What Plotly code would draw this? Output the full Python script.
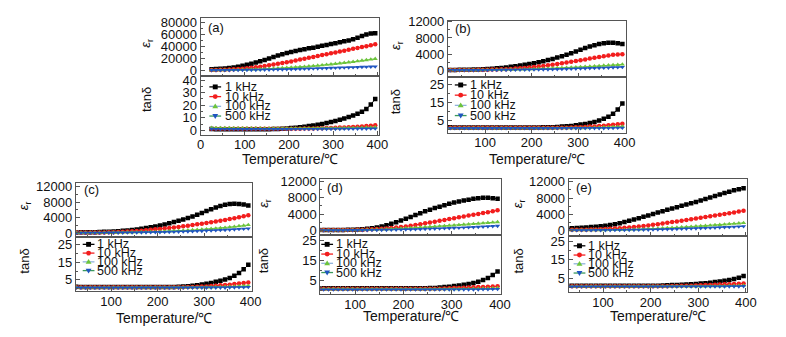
import plotly.graph_objects as go

# page geometry (the browser body keeps an 8 px margin, so the figure is offset by it)
W, H = 786, 337
OFF = 8
FW, FH = W - 2 * OFF, H - 2 * OFF

# ---------------- data ----------------
T = [25, 35, 45, 55, 65, 75, 85, 95, 105, 115, 125, 135, 145, 155, 165, 175, 185, 195, 205, 215,
     225, 235, 245, 255, 265, 275, 285, 295, 305, 315, 325, 335, 345, 355, 365, 375, 385, 395]

FREQS = ["1 kHz", "10 kHz", "100 kHz", "500 kHz"]
PANEL_LABELS = ["(a)", "(b)", "(c)", "(d)", "(e)"]
X_TITLE = "Temperature/℃"

# panel (a)
A_er_1k = [2000, 2300, 2700, 3200, 3900, 4800, 6000, 7500, 9200, 11000,
           13000, 15200, 17500, 20000, 22500, 24800, 27000, 29000, 30800, 32500,
           34000, 35500, 36800, 38000, 39500, 41000, 42500, 44000, 45500, 47000,
           48500, 50000, 52000, 54500, 57500, 60000, 61500, 62000]
A_er_10k = [500, 600, 800, 1000, 1300, 1700, 2200, 2800, 3500, 4300,
            5200, 6200, 7300, 8500, 9700, 11000, 12300, 13600, 15000, 16500,
            18000, 19500, 21000, 22500, 24000, 25500, 27000, 28500, 30000, 31500,
            33000, 34500, 36000, 37500, 39000, 40500, 42000, 43500]
A_er_100k = [300, 350, 400, 500, 600, 700, 850, 1000, 1200, 1450,
             1700, 2000, 2300, 2650, 3000, 3400, 3800, 4200, 4700, 5200,
             5700, 6200, 6800, 7400, 8000, 8700, 9400, 10100, 10900, 11700,
             12500, 13400, 14300, 15300, 16300, 17300, 18300, 19300]
A_er_500k = [200, 220, 250, 280, 320, 370, 430, 500, 580, 670,
             770, 880, 1000, 1130, 1270, 1420, 1580, 1750, 1930, 2120,
             2320, 2530, 2750, 2980, 3210, 3450, 3690, 3930, 4170, 4410,
             4650, 4890, 5130, 5370, 5600, 5820, 6030, 6230]
A_tan_1k = [1.0, 0.9, 0.8, 0.8, 0.8, 0.8, 0.8, 0.8, 0.8, 0.8,
            0.8, 0.8, 0.9, 0.9, 1.0, 1.1, 1.3, 1.5, 1.8, 2.1,
            2.5, 2.9, 3.4, 3.9, 4.5, 5.1, 5.8, 6.6, 7.5, 8.5,
            9.5, 10.6, 11.8, 13.2, 14.8, 17.0, 20.5, 25.0]
A_tan_10k = [1.3, 1.2, 1.2, 1.2, 1.2, 1.2, 1.2, 1.2, 1.2, 1.2,
             1.2, 1.2, 1.2, 1.2, 1.2, 1.2, 1.2, 1.2, 1.2, 1.3,
             1.3, 1.4, 1.4, 1.5, 1.6, 1.7, 1.8, 1.9, 2.0, 2.2,
             2.3, 2.5, 2.7, 2.9, 3.1, 3.4, 3.7, 4.0]
A_tan_100k = [2.0, 1.9, 1.9, 1.8, 1.8, 1.7, 1.7, 1.7, 1.6, 1.6,
              1.6, 1.6, 1.5, 1.5, 1.5, 1.5, 1.5, 1.5, 1.5, 1.5,
              1.5, 1.5, 1.5, 1.5, 1.6, 1.6, 1.6, 1.7, 1.7, 1.8,
              1.8, 1.9, 1.9, 2.0, 2.1, 2.2, 2.3, 2.4]
A_tan_500k = [1.1, 1.0, 1.0, 1.0, 1.0, 1.0, 1.0, 1.0, 1.0, 1.0,
              1.0, 1.0, 1.0, 1.0, 1.0, 1.0, 1.0, 1.0, 1.0, 1.0,
              1.0, 1.0, 1.0, 1.0, 1.0, 1.1, 1.1, 1.1, 1.1, 1.1,
              1.2, 1.2, 1.2, 1.3, 1.3, 1.3, 1.4, 1.4]

# panel (b)
B_er_1k = [100, 100, 110, 120, 140, 170, 210, 260, 320, 400,
           490, 600, 720, 860, 1010, 1180, 1360, 1560, 1770, 2000,
           2250, 2520, 2820, 3140, 3490, 3860, 4250, 4660, 5080, 5490,
           5880, 6220, 6500, 6700, 6800, 6790, 6680, 6500]
B_er_10k = [80, 80, 85, 90, 95, 100, 110, 125, 145, 170,
            200, 240, 290, 350, 420, 500, 600, 700, 820, 950,
            1090, 1240, 1400, 1570, 1750, 1930, 2120, 2310, 2500, 2700,
            2900, 3100, 3300, 3500, 3680, 3820, 3920, 4000]
B_er_100k = [50, 50, 50, 55, 60, 65, 70, 80, 90, 100,
             115, 130, 150, 170, 195, 220, 250, 285, 320, 360,
             400, 445, 490, 540, 590, 645, 700, 760, 820, 885,
             950, 1020, 1090, 1160, 1230, 1300, 1370, 1440]
B_er_500k = [30, 30, 30, 32, 35, 38, 42, 47, 53, 60,
             68, 77, 87, 98, 110, 123, 137, 152, 168, 185,
             205, 228, 253, 280, 308, 338, 370, 403, 437, 472,
             508, 545, 583, 622, 662, 703, 745, 790]
B_tan_1k = [1.1, 1.0, 1.0, 1.0, 1.0, 1.0, 1.0, 1.0, 1.0, 1.0,
            1.0, 1.0, 1.0, 1.0, 1.0, 1.0, 1.0, 1.0, 1.0, 1.0,
            1.1, 1.1, 1.2, 1.3, 1.5, 1.7, 1.9, 2.2, 2.6, 3.0,
            3.5, 4.1, 4.9, 5.8, 7.0, 8.6, 11.0, 14.3]
B_tan_10k = [0.8, 0.8, 0.8, 0.8, 0.8, 0.8, 0.8, 0.8, 0.8, 0.8,
             0.8, 0.8, 0.8, 0.8, 0.8, 0.8, 0.8, 0.8, 0.8, 0.8,
             0.8, 0.8, 0.8, 0.8, 0.8, 0.9, 1.0, 1.1, 1.2, 1.3,
             1.5, 1.6, 1.8, 2.0, 2.2, 2.5, 2.8, 3.1]
B_tan_100k = [0.7, 0.7, 0.7, 0.7, 0.7, 0.7, 0.7, 0.7, 0.7, 0.7,
              0.7, 0.7, 0.7, 0.7, 0.7, 0.7, 0.7, 0.7, 0.7, 0.7,
              0.7, 0.7, 0.7, 0.7, 0.7, 0.7, 0.7, 0.7, 0.7, 0.7,
              0.8, 0.9, 1.0, 1.1, 1.2, 1.3, 1.4, 1.5]
B_tan_500k = [0.6, 0.6, 0.6, 0.6, 0.6, 0.6, 0.6, 0.6, 0.6, 0.6,
              0.6, 0.6, 0.6, 0.6, 0.6, 0.6, 0.6, 0.6, 0.6, 0.6,
              0.6, 0.6, 0.6, 0.6, 0.6, 0.6, 0.6, 0.6, 0.6, 0.6,
              0.6, 0.6, 0.6, 0.6, 0.7, 0.7, 0.8, 0.8]

# panel (c)
C_er_1k = [150, 160, 180, 200, 220, 250, 290, 340, 400, 470,
           560, 670, 790, 930, 1090, 1270, 1480, 1710, 1960, 2230,
           2520, 2830, 3160, 3510, 3890, 4300, 4740, 5200, 5680, 6150,
           6600, 6990, 7300, 7500, 7580, 7550, 7400, 7150]
C_er_10k = [100, 100, 105, 110, 120, 135, 155, 180, 210, 250,
            300, 360, 430, 510, 600, 700, 820, 950, 1050, 1170,
            1300, 1440, 1580, 1730, 1890, 2060, 2240, 2420, 2580, 2760,
            2960, 3170, 3390, 3620, 3850, 4090, 4340, 4600]
C_er_100k = [60, 60, 62, 65, 70, 75, 82, 92, 105, 120,
             138, 158, 180, 205, 232, 262, 295, 330, 368, 410,
             455, 505, 560, 620, 685, 755, 830, 910, 995, 1085,
             1180, 1280, 1390, 1510, 1640, 1780, 1930, 2080]
C_er_500k = [40, 40, 41, 43, 46, 50, 55, 61, 68, 76,
             86, 97, 110, 124, 140, 157, 176, 197, 220, 245,
             272, 302, 335, 370, 408, 448, 490, 535, 583, 634,
             688, 745, 805, 868, 935, 1005, 1080, 1160]
C_tan_1k = [1.1, 1.0, 1.0, 1.0, 1.0, 1.0, 1.0, 1.0, 1.0, 1.0,
            1.0, 1.0, 1.0, 1.0, 1.0, 1.0, 1.0, 1.0, 1.0, 1.0,
            1.0, 1.0, 1.1, 1.2, 1.4, 1.7, 2.0, 2.4, 2.8, 3.3,
            3.9, 4.5, 5.2, 6.1, 7.3, 8.9, 11.0, 13.5]
C_tan_10k = [0.8, 0.8, 0.8, 0.8, 0.8, 0.8, 0.8, 0.8, 0.8, 0.8,
             0.8, 0.8, 0.8, 0.8, 0.8, 0.8, 0.8, 0.8, 0.8, 0.8,
             0.8, 0.8, 0.8, 0.8, 0.9, 1.0, 1.1, 1.2, 1.3, 1.5,
             1.7, 1.9, 2.1, 2.3, 2.6, 2.9, 3.2, 3.5]
C_tan_100k = [0.7, 0.7, 0.7, 0.7, 0.7, 0.7, 0.7, 0.7, 0.7, 0.7,
              0.7, 0.7, 0.7, 0.7, 0.7, 0.7, 0.7, 0.7, 0.7, 0.7,
              0.7, 0.7, 0.7, 0.7, 0.7, 0.7, 0.7, 0.7, 0.8, 0.8,
              0.9, 1.0, 1.1, 1.2, 1.3, 1.4, 1.5, 1.6]
C_tan_500k = [0.6, 0.6, 0.6, 0.6, 0.6, 0.6, 0.6, 0.6, 0.6, 0.6,
              0.6, 0.6, 0.6, 0.6, 0.6, 0.6, 0.6, 0.6, 0.6, 0.6,
              0.6, 0.6, 0.6, 0.6, 0.6, 0.6, 0.6, 0.6, 0.6, 0.6,
              0.6, 0.6, 0.6, 0.7, 0.7, 0.8, 0.8, 0.9]

# panel (d)
D_er_1k = [100, 100, 105, 110, 115, 130, 150, 180, 230, 300,
           400, 530, 720, 950, 1250, 1600, 2000, 2400, 2850, 3300,
           3750, 4200, 4650, 5050, 5450, 5800, 6150, 6500, 6800, 7050,
           7300, 7500, 7700, 7850, 7950, 7950, 7850, 7700]
D_er_10k = [80, 80, 82, 85, 90, 100, 115, 135, 160, 190,
            230, 280, 340, 410, 490, 580, 690, 820, 970, 1140,
            1330, 1530, 1730, 1930, 2140, 2350, 2560, 2770, 2980, 3190,
            3400, 3610, 3820, 4030, 4240, 4450, 4670, 4900]
D_er_100k = [50, 50, 52, 55, 60, 67, 76, 88, 103, 121,
             143, 170, 202, 240, 285, 335, 405, 480, 540, 610,
             680, 750, 820, 890, 960, 1030, 1100, 1180, 1260, 1340,
             1420, 1500, 1590, 1680, 1770, 1860, 1950, 2050]
D_er_500k = [30, 30, 31, 33, 36, 40, 45, 51, 58, 66,
             76, 88, 102, 118, 136, 156, 178, 202, 228, 256,
             286, 318, 352, 388, 426, 466, 508, 552, 598, 646,
             696, 748, 802, 858, 916, 976, 1038, 1100]
D_tan_1k = [1.2, 1.2, 1.2, 1.2, 1.2, 1.2, 1.2, 1.2, 1.2, 1.2,
            1.2, 1.2, 1.2, 1.2, 1.2, 1.2, 1.2, 1.2, 1.2, 1.2,
            1.2, 1.2, 1.2, 1.3, 1.4, 1.6, 1.8, 2.0, 2.3, 2.6,
            3.0, 3.4, 3.9, 4.5, 5.3, 6.3, 7.8, 9.6]
D_tan_10k = [1.0, 1.0, 1.0, 1.0, 1.0, 1.0, 1.0, 1.0, 1.0, 1.0,
             1.0, 1.0, 1.0, 1.0, 1.0, 1.0, 1.0, 1.0, 1.0, 1.0,
             1.0, 1.0, 1.0, 1.0, 1.0, 1.0, 1.1, 1.2, 1.3, 1.4,
             1.5, 1.6, 1.7, 1.8, 1.9, 2.0, 2.1, 2.2]
D_tan_100k = [0.8, 0.8, 0.8, 0.8, 0.8, 0.8, 0.8, 0.8, 0.8, 0.8,
              0.8, 0.8, 0.8, 0.8, 0.8, 0.8, 0.8, 0.8, 0.8, 0.8,
              0.8, 0.8, 0.8, 0.8, 0.8, 0.8, 0.8, 0.8, 0.8, 0.8,
              0.9, 0.9, 1.0, 1.0, 1.1, 1.1, 1.2, 1.3]
D_tan_500k = [0.6, 0.6, 0.6, 0.6, 0.6, 0.6, 0.6, 0.6, 0.6, 0.6,
              0.6, 0.6, 0.6, 0.6, 0.6, 0.6, 0.6, 0.6, 0.6, 0.6,
              0.6, 0.6, 0.6, 0.6, 0.6, 0.6, 0.6, 0.6, 0.6, 0.6,
              0.6, 0.6, 0.6, 0.6, 0.7, 0.7, 0.8, 0.8]

# panel (e)
E_er_1k = [500, 560, 620, 680, 750, 830, 920, 1030, 1160, 1330,
           1550, 1800, 2080, 2380, 2700, 3030, 3370, 3720, 4070, 4420,
           4770, 5110, 5440, 5760, 6080, 6400, 6720, 7050, 7400, 7760,
           8130, 8500, 8870, 9230, 9580, 9900, 10200, 10450]
E_er_10k = [150, 155, 165, 180, 200, 225, 260, 300, 350, 410,
            480, 560, 650, 750, 860, 980, 1110, 1250, 1400, 1560,
            1730, 1900, 2070, 2240, 2410, 2580, 2760, 2940, 3120, 3300,
            3490, 3680, 3870, 4060, 4260, 4460, 4670, 4880]
E_er_100k = [60, 60, 62, 65, 70, 76, 84, 95, 108, 124,
             143, 165, 190, 218, 250, 285, 325, 370, 420, 475,
             535, 600, 665, 730, 800, 870, 940, 1010, 1085, 1160,
             1240, 1320, 1400, 1490, 1580, 1670, 1770, 1870]
E_er_500k = [40, 40, 41, 43, 46, 50, 55, 61, 68, 76,
             86, 97, 110, 124, 140, 157, 176, 197, 220, 245,
             272, 300, 330, 362, 396, 432, 470, 510, 552, 596,
             642, 690, 740, 792, 846, 902, 960, 1020]
E_tan_1k = [1.0, 1.0, 1.0, 1.0, 1.0, 1.0, 1.0, 1.0, 1.0, 1.0,
            1.0, 1.0, 1.0, 1.0, 1.0, 1.0, 1.0, 1.0, 1.1, 1.1,
            1.2, 1.3, 1.4, 1.5, 1.6, 1.7, 1.9, 2.0, 2.2, 2.4,
            2.7, 3.0, 3.3, 3.7, 4.1, 4.7, 5.4, 6.3]
E_tan_10k = [0.8, 0.8, 0.8, 0.8, 0.8, 0.8, 0.8, 0.8, 0.8, 0.8,
             0.8, 0.8, 0.8, 0.8, 0.8, 0.8, 0.8, 0.8, 0.8, 0.8,
             0.8, 0.8, 0.9, 0.9, 1.0, 1.0, 1.1, 1.2, 1.3, 1.4,
             1.5, 1.6, 1.7, 1.8, 1.9, 2.0, 2.1, 2.2]
E_tan_100k = [0.7, 0.7, 0.7, 0.7, 0.7, 0.7, 0.7, 0.7, 0.7, 0.7,
              0.7, 0.7, 0.7, 0.7, 0.7, 0.7, 0.7, 0.7, 0.7, 0.7,
              0.7, 0.7, 0.7, 0.7, 0.7, 0.7, 0.7, 0.7, 0.7, 0.7,
              0.8, 0.8, 0.9, 0.9, 1.0, 1.0, 1.1, 1.2]
E_tan_500k = [0.6, 0.6, 0.6, 0.6, 0.6, 0.6, 0.6, 0.6, 0.6, 0.6,
              0.6, 0.6, 0.6, 0.6, 0.6, 0.6, 0.6, 0.6, 0.6, 0.6,
              0.6, 0.6, 0.6, 0.6, 0.6, 0.6, 0.6, 0.6, 0.6, 0.6,
              0.6, 0.6, 0.6, 0.6, 0.7, 0.7, 0.7, 0.8]

ER = [[A_er_1k, A_er_10k, A_er_100k, A_er_500k],
      [B_er_1k, B_er_10k, B_er_100k, B_er_500k],
      [C_er_1k, C_er_10k, C_er_100k, C_er_500k],
      [D_er_1k, D_er_10k, D_er_100k, D_er_500k],
      [E_er_1k, E_er_10k, E_er_100k, E_er_500k]]
TAN = [[A_tan_1k, A_tan_10k, A_tan_100k, A_tan_500k],
       [B_tan_1k, B_tan_10k, B_tan_100k, B_tan_500k],
       [C_tan_1k, C_tan_10k, C_tan_100k, C_tan_500k],
       [D_tan_1k, D_tan_10k, D_tan_100k, D_tan_500k],
       [E_tan_1k, E_tan_10k, E_tan_100k, E_tan_500k]]

# ---------------- styling / layout ----------------
MARKER_COLORS = ["#000000", "#f21d1d", "#6cc43c", "#1f55c0"]
LEGEND_LINE_COLORS = ["#000000", "#f21d1d", "#8fb3dc", "#3a9a5c"]
SYMBOLS = ["square", "circle", "triangle-up", "triangle-down"]
FONT = "Liberation Sans, Arial, sans-serif"
AXC = "#555555"

# pixel boxes in the page: x0, x1, top, divider, bottom
BOXES = [(200, 382, 12.5, 71.5, 132),
         (452, 633, 15, 73, 130),
         (73, 252, 181.5, 237.5, 293),
         (322, 506, 177.3, 235.5, 296),
         (575, 757, 177.3, 236, 294)]
XRANGES = [[0, 404], [20, 402], [24, 402], [28, 402], [28, 403]]
ER_RANGES = [[-9000, 87000], [-1700, 12250], [-1060, 13060], [-1140, 12640], [-1270, 12820]]
ER_DTICK = [20000, 4000, 4000, 4000, 4000]
TAN_RANGES = [[-3.3, 43.5], [-1.8, 28.8], [-1.3, 29.2], [-1.6, 27.7], [-2.3, 28]]
TAN_TICK0 = [0, 5, 5, 5, 5]
YLAB_X = [145, 399, 21, 265, 524]
ER_LAB_Y = [38, 40, 205, 203, 203]
TAN_LAB_Y = [96, 98, 262, 262, 262]
PANEL_LAB = [(206, 22), (457, 23), (79, 189), (327, 187), (580, 187)]
XTITLE_Y = [157, 157, 321, 319, 319]
LEG = [(215, 223, [83, 93, 103, 113]),
       (465, 472, [81, 91.5, 102, 112.5]),
       (86, 93, [245, 254, 263, 272]),
       (329, 336, [245, 255, 264.5, 274]),
       (586, 593, [246.5, 256, 265, 274.5])]


def PX(x):
    return (x - OFF) / FW


def PY(y):
    return 1 - (y - OFF) / FH


fig = go.Figure()
layout = dict(width=FW, height=FH, margin=dict(l=0, r=0, t=0, b=0, pad=0),
              paper_bgcolor="white", plot_bgcolor="white", showlegend=False,
              font=dict(family=FONT, size=13, color="#111111"))
annotations = []
shapes = []

for p in range(5):
    x0, x1, top, div, bot = BOXES[p]
    ia = 2 * p + 1
    ib = 2 * p + 2
    xa_top, ya_top = f"x{ia}", f"y{ia}"
    xa_bot, ya_bot = f"x{ib}", f"y{ib}"
    for s in range(4):
        common = dict(mode="lines+markers",
                      line=dict(color=MARKER_COLORS[s], width=1),
                      marker=dict(symbol=SYMBOLS[s], size=4.5, color=MARKER_COLORS[s],
                                  line=dict(width=0)),
                      name=FREQS[s], hoverinfo="skip")
        fig.add_trace(go.Scatter(x=T, y=ER[p][s], xaxis=xa_top, yaxis=ya_top, **common))
        fig.add_trace(go.Scatter(x=T, y=TAN[p][s], xaxis=xa_bot, yaxis=ya_bot, **common))

    xdom = [PX(x0), PX(x1)]
    base_x = dict(domain=xdom, range=XRANGES[p], showline=True, linecolor=AXC, linewidth=1,
                  mirror=True, ticks="inside", ticklen=4, tickcolor=AXC, tick0=0, dtick=100,
                  minor=dict(ticks="inside", ticklen=2, dtick=50, tick0=0, tickcolor=AXC),
                  showgrid=False, zeroline=False, tickfont=dict(size=13, color="#111"))
    layout[f"xaxis{ia}"] = dict(base_x, anchor=ya_top, showticklabels=False)
    layout[f"xaxis{ib}"] = dict(base_x, anchor=ya_bot, showticklabels=True,
                                ticklabelstandoff=-2)
    base_y = dict(showline=True, linecolor=AXC, linewidth=1, mirror=True, ticks="inside",
                  ticklen=4, tickcolor=AXC, showgrid=False, zeroline=False,
                  tickformat="d", tickfont=dict(size=13, color="#111"))
    layout[f"yaxis{ia}"] = dict(base_y, anchor=xa_top, domain=[PY(div), PY(top)],
                                range=ER_RANGES[p], tick0=0, dtick=ER_DTICK[p],
                                minor=dict(ticks="inside", ticklen=2, dtick=ER_DTICK[p] / 2,
                                           tick0=0, tickcolor=AXC))
    layout[f"yaxis{ib}"] = dict(base_y, anchor=xa_bot, domain=[PY(bot), PY(div)],
                                range=TAN_RANGES[p], tick0=TAN_TICK0[p], dtick=10,
                                minor=dict(ticks="inside", ticklen=2, dtick=5,
                                           tick0=TAN_TICK0[p], tickcolor=AXC))

    annotations.append(dict(x=PX(YLAB_X[p]), y=PY(ER_LAB_Y[p]), xref="paper", yref="paper",
                            text="<i>ε</i><sub>r</sub>", textangle=-90, showarrow=False,
                            font=dict(size=13), xanchor="center", yanchor="middle"))
    annotations.append(dict(x=PX(YLAB_X[p]), y=PY(TAN_LAB_Y[p]), xref="paper", yref="paper",
                            text="tanδ", textangle=-90, showarrow=False,
                            font=dict(size=13), xanchor="center", yanchor="middle"))
    annotations.append(dict(x=PX((x0 + x1) / 2), y=PY(XTITLE_Y[p]), xref="paper", yref="paper",
                            text=X_TITLE, showarrow=False, font=dict(size=14),
                            xanchor="center", yanchor="middle"))
    lx, ly = PANEL_LAB[p]
    annotations.append(dict(x=PX(lx), y=PY(ly), xref="paper", yref="paper",
                            text=PANEL_LABELS[p], showarrow=False, font=dict(size=13),
                            xanchor="left", yanchor="middle"))

    sx, tx, rows = LEG[p]
    for s in range(4):
        ry = rows[s]
        shapes.append(dict(type="line", xref="paper", yref="paper",
                           x0=PX(sx - 6), x1=PX(sx + 6), y0=PY(ry), y1=PY(ry),
                           line=dict(color=LEGEND_LINE_COLORS[s], width=1.3)))
        c = MARKER_COLORS[s]
        r = 2.5
        if s == 0:
            shapes.append(dict(type="rect", xref="paper", yref="paper",
                               x0=PX(sx - r), x1=PX(sx + r), y0=PY(ry + r), y1=PY(ry - r),
                               fillcolor=c, line=dict(width=0)))
        elif s == 1:
            shapes.append(dict(type="circle", xref="paper", yref="paper",
                               x0=PX(sx - r), x1=PX(sx + r), y0=PY(ry + r), y1=PY(ry - r),
                               fillcolor=c, line=dict(width=0)))
        else:
            d = -1 if s == 2 else 1
            pts = [(sx, ry + d * 3), (sx + 3, ry - d * 2), (sx - 3, ry - d * 2)]
            path = "M {:.5f},{:.5f} L {:.5f},{:.5f} L {:.5f},{:.5f} Z".format(
                PX(pts[0][0]), PY(pts[0][1]), PX(pts[1][0]), PY(pts[1][1]),
                PX(pts[2][0]), PY(pts[2][1]))
            shapes.append(dict(type="path", xref="paper", yref="paper", path=path,
                               fillcolor=c, line=dict(width=0)))
        annotations.append(dict(x=PX(tx), y=PY(ry), xref="paper", yref="paper",
                                text=FREQS[s], showarrow=False, font=dict(size=12.5),
                                xanchor="left", yanchor="middle"))

layout["annotations"] = annotations
layout["shapes"] = shapes
fig.update_layout(**layout)
fig.write_html("out.html")
